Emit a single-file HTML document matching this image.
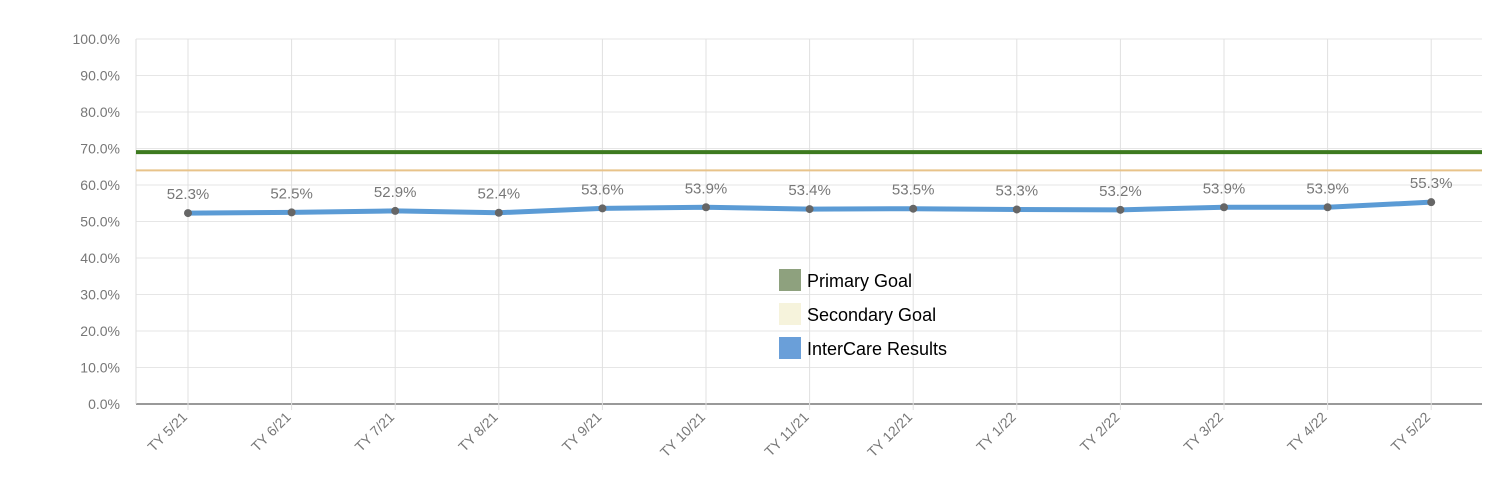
<!DOCTYPE html>
<html><head><meta charset="utf-8"><style>
body{margin:0;background:#fff;width:1500px;height:495px;overflow:hidden;font-family:"Liberation Sans",sans-serif}
</style></head><body>
<svg id="chart" width="1500" height="495" xmlns="http://www.w3.org/2000/svg"></svg>
<script>
const categories=["TY 5/21","TY 6/21","TY 7/21","TY 8/21","TY 9/21","TY 10/21","TY 11/21","TY 12/21","TY 1/22","TY 2/22","TY 3/22","TY 4/22","TY 5/22"];
const results=[52.3,52.5,52.9,52.4,53.6,53.9,53.4,53.5,53.3,53.2,53.9,53.9,55.3];
const primaryGoal=69.0;
const secondaryGoal=64.0;
const yTicks=[0,10,20,30,40,50,60,70,80,90,100];
const svgEl=document.getElementById('chart');
const NS="http://www.w3.org/2000/svg";
const pL=136,pR=1482,pT=39,pB=404;
const x0=188,dx=103.6;
const xs=i=>x0+i*dx;
const ys=v=>pB-(v/100)*(pB-pT);
function el(t,a,p){const e=document.createElementNS(NS,t);for(const k in a)e.setAttribute(k,a[k]);(p||svgEl).appendChild(e);return e;}
yTicks.forEach(v=>{
 const g=el('line',{x1:pL,x2:pR,y1:ys(v),y2:ys(v),stroke:v===0?'#999':'#e6e6e6','stroke-width':v===0?2:1});
 
 
 const t=el('text',{x:pL-16,y:ys(v)+5,'text-anchor':'end','font-size':14,fill:'#777'});
 t.textContent=v.toFixed(1)+'%';
 
 
});
const ax=el('line',{x1:pL,x2:pL,y1:pT,y2:pB,stroke:'#ddd'});


categories.forEach((c,i)=>{
 const g=el('line',{x1:xs(i),x2:xs(i),y1:pT,y2:pB+6,stroke:'#e0e0e0'});
 
 
 const t=el('text',{x:xs(i),y:pB+14,'text-anchor':'end','font-size':14,fill:'#777',transform:`rotate(-45 ${xs(i)} ${pB+14})`});
 t.textContent=c;
 
 
});
const pg=el('line',{x1:pL,x2:pR,y1:ys(primaryGoal),y2:ys(primaryGoal),stroke:'#3d7a1f','stroke-width':4});


const sg=el('line',{x1:pL,x2:pR,y1:ys(secondaryGoal),y2:ys(secondaryGoal),stroke:'#e8c38a','stroke-width':2});


const pl=el('polyline',{points:results.map((v,i)=>xs(i)+','+ys(v)).join(' '),fill:'none',stroke:'#5b9bd5','stroke-width':5});


results.forEach((v,i)=>{
 const p=el('circle',{cx:xs(i),cy:ys(v),r:4,fill:'#666'});
 
 
 const t=el('text',{x:xs(i),y:ys(v)-14,'text-anchor':'middle','font-size':15,fill:'#777'});
 t.textContent=v.toFixed(1)+'%';
 
 
});
const leg=[["Primary Goal","#8ea17e"],["Secondary Goal","#f6f3dc"],["InterCare Results","#6a9fd9"]];
leg.forEach((l,i)=>{
 const y=269+i*34;
 const g=el('g',{});
 
 
 el('rect',{x:779,y:y,width:22,height:22,fill:l[1]},g);
 const t=el('text',{x:807,y:y+18,'font-size':18,fill:'#000'},g);
 t.textContent=l[0];
});
</script>
</body></html>
